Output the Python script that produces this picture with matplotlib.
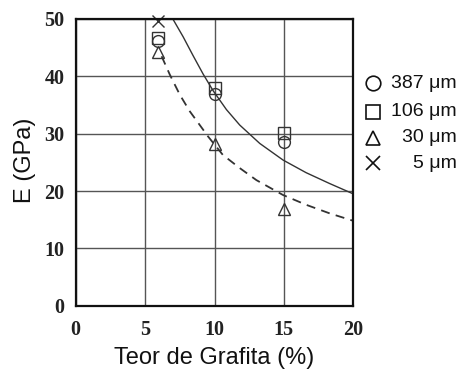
import matplotlib
matplotlib.use("Agg")
import matplotlib.pyplot as plt
from matplotlib.lines import Line2D
from matplotlib.font_manager import FontProperties

# ---- data ----
x_387 = [5.9, 10, 15]
y_387 = [46.2, 37.0, 28.5]
x_106 = [5.9, 10, 15]
y_106 = [46.7, 37.9, 30.1]
x_30 = [5.9, 10, 15]
y_30 = [44.2, 28.2, 16.9]
x_5 = [5.9]
y_5 = [49.7]

solid_x = [7.0, 7.74, 8.46, 9.18, 9.9, 10.86, 11.82, 13.26, 14.94, 16.6, 18.3, 20.0]
solid_y = [50.0, 46.9, 43.6, 40.4, 37.5, 34.2, 31.5, 28.3, 25.4, 23.2, 21.3, 19.5]
dash_x = [6.19, 6.78, 7.5, 8.22, 8.94, 9.54, 10.6, 11.82, 13.02, 14.94, 16.6, 18.3, 20.0]
dash_y = [43.5, 40.3, 36.8, 33.9, 31.5, 29.5, 26.3, 24.0, 21.9, 19.3, 17.6, 16.1, 14.8]

xticks = [0, 5, 10, 15, 20]
yticks = [0, 10, 20, 30, 40, 50]
legend_labels = ["387 \u03bcm", "106 \u03bcm", "30 \u03bcm", "5 \u03bcm"]

W, H = 458, 372
fig = plt.figure(figsize=(W / 100, H / 100), dpi=100)
ax = fig.add_axes([75.7 / W, 1 - 305.7 / H, (353.3 - 75.7) / W, (305.7 - 19) / H])

ax.set_xlim(0, 20)
ax.set_ylim(0, 50)
ax.set_xticks(xticks)
ax.set_yticks(yticks)
ax.grid(True, color="#555555", linewidth=1.0)
ax.set_axisbelow(True)
for s in ax.spines.values():
    s.set_linewidth(1.6)
    s.set_color("#111111")

tick_fp = FontProperties(family="Liberation Serif", weight="bold", size=14.5)
ax.tick_params(length=0, pad=8, colors="#222222")
ax.tick_params(axis="x", pad=10)
for lab in ax.get_xticklabels() + ax.get_yticklabels():
    lab.set_fontproperties(tick_fp)

ax.plot(solid_x, solid_y, color="#333333", lw=1.0)
ax.plot(dash_x, dash_y, color="#333333", lw=1.3, ls=(0, (5, 3.5)))

mk = dict(mfc="none", mec="#333333", mew=1.0, ls="none", clip_on=False)
ax.plot(x_387, y_387, marker="o", ms=8.5, **mk)
ax.plot(x_106, y_106, marker="s", ms=8, **mk)
ax.plot(x_30, y_30, marker="^", ms=8.5, **mk)
ax.plot(x_5, y_5, marker="x", ms=8, **mk)

lab_font = dict(family="Liberation Sans", size=17, color="#111111")
ax.set_xlabel("Teor de Grafita (%)", **lab_font)
ax.set_ylabel("E (GPa)", **lab_font)
ax.xaxis.set_label_coords(0.498, -0.182)
ax.xaxis.label.set_va("center")
ax.yaxis.set_label_coords(-0.1826, 0.508)
ax.yaxis.label.set_va("center")

# legend drawn manually at right
markers = ["o", "s", "^", "x"]
rows_y = [83, 112, 138, 163]
for m, lbl, yy in zip(markers, legend_labels, rows_y):
    fig.add_artist(Line2D([373 / W], [1 - yy / H], transform=fig.transFigure,
                          marker=m, ms=10.5, mfc="none", mec="#111111", mew=1.2, ls="none"))
    fig.text(457 / W, 1 - yy / H, lbl, ha="right", va="center",
             family="Liberation Sans", size=14, color="#111111")

fig.savefig("out.png", dpi=100)
